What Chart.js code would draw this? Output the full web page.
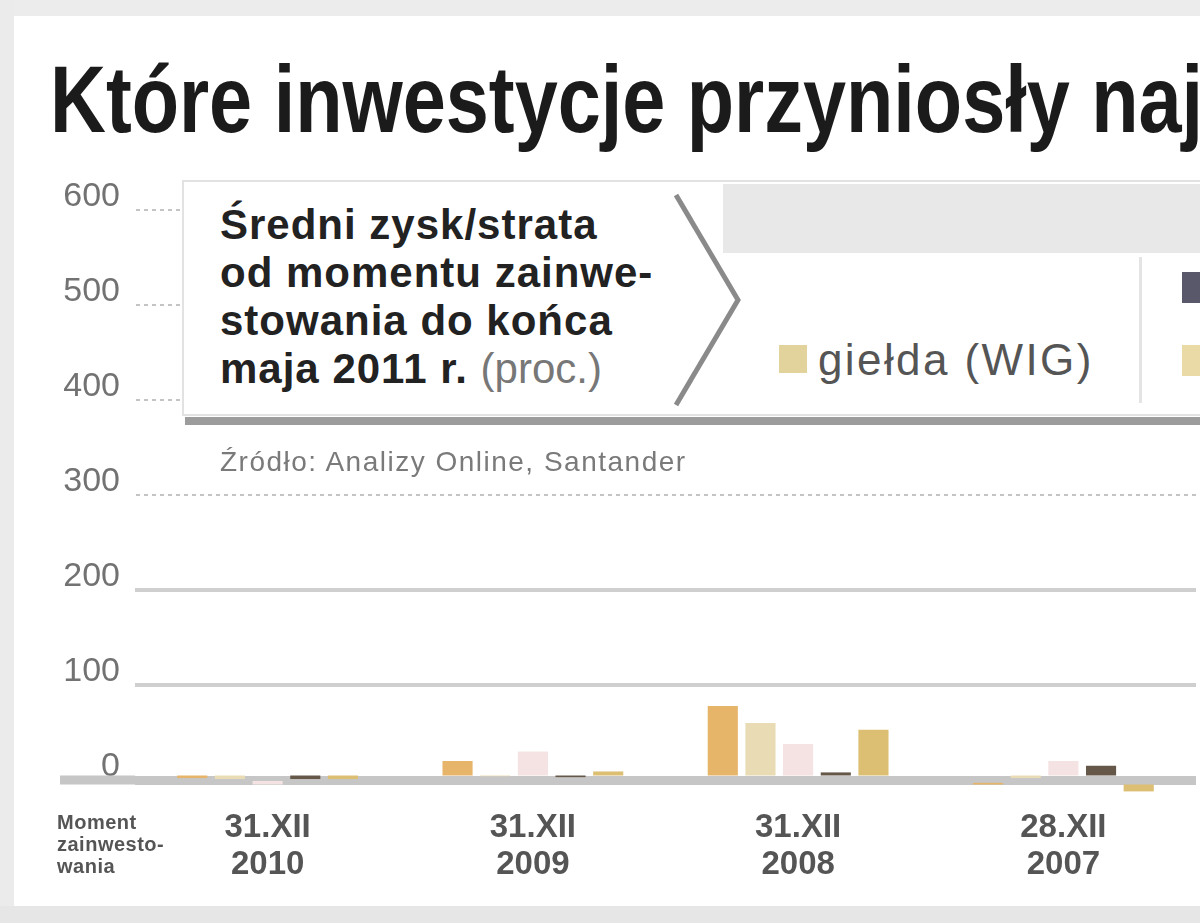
<!DOCTYPE html>
<html lang="pl">
<head>
<meta charset="utf-8">
<script src="https://cdn.jsdelivr.net/npm/chart.js@4.4.0/dist/chart.umd.min.js"></script>
<style>
  html, body { margin:0; padding:0; width:1200px; height:923px; overflow:hidden; background:#fff; font-family:"Liberation Sans", Arial, sans-serif; }
  #frameTop { position:absolute; left:0; top:0; width:1200px; height:16px; background:#ececec; }
  #frameBottom { position:absolute; left:0; top:906px; width:1200px; height:17px; background:#e6e6e6; }
  #frameLeft { position:absolute; left:0; top:0; width:14px; height:923px; background:#ebebeb; }
  #c { position:absolute; left:0; top:0; }
  #title { position:absolute; left:50px; top:52px; font-size:95px; line-height:95px; font-weight:bold; color:#1b1b1b; white-space:nowrap; transform:scaleX(0.815); transform-origin:0 0; }
  #box { position:absolute; left:182px; top:180px; width:1100px; height:236px; background:#fff; border:2px solid #e2e2e2; box-sizing:border-box; }
  #boxShadow { position:absolute; left:185px; top:417px; width:1100px; height:8px; background:#9c9c9c; }
  #strip { position:absolute; left:723px; top:184px; width:600px; height:69px; background:#e8e8e8; }
  #chev { position:absolute; left:660px; top:185px; }
  #boxText { position:absolute; left:220px; top:201px; font-size:42px; line-height:48px; font-weight:bold; color:#222; letter-spacing:1px; white-space:nowrap; }
  #boxText span { font-weight:normal; color:#777; letter-spacing:0; }
  .lsq { position:absolute; width:28px; height:28px; }
  #leg1 { position:absolute; left:818px; top:338px; font-size:44px; line-height:44px; color:#555; letter-spacing:2.4px; white-space:nowrap; }
  #divider { position:absolute; left:1139px; top:257px; width:3px; height:146px; background:#e4e4e4; }
  #source { position:absolute; left:220px; top:448px; font-size:28px; line-height:28px; color:#7a7a7a; letter-spacing:1.5px; white-space:nowrap; }
  #axisNote { position:absolute; left:57px; top:811px; font-size:20px; line-height:22px; font-weight:bold; color:#555; white-space:nowrap; letter-spacing:0.5px; }
</style>
</head>
<body>
<div id="frameTop"></div>
<div id="frameLeft"></div>
<div id="frameBottom"></div>
<canvas id="c" width="1200" height="923"></canvas>
<div id="title">Które inwestycje przyniosły najwięcej?</div>
<div id="box"></div>
<div id="boxShadow"></div>
<div id="strip"></div>
<svg id="chev" width="90" height="230" viewBox="0 0 90 230"><polyline points="16,10 78,115 16,220" fill="none" stroke="#8a8a8a" stroke-width="5"/></svg>
<div id="boxText">Średni zysk/strata<br>od momentu zainwe-<br>stowania do końca<br>maja 2011 r. <span>(proc.)</span></div>
<div class="lsq" id="sqWig" style="left:779px; top:345px;"></div>
<div id="leg1">giełda (WIG)</div>
<div id="divider"></div>
<div class="lsq" id="sqB" style="left:1182px; top:272px; height:31px;"></div>
<div class="lsq" id="sqC" style="left:1182px; top:345px; height:31px;"></div>
<div id="source">Źródło: Analizy Online, Santander</div>
<div id="axisNote">Moment<br>zainwesto-<br>wania</div>
<script>
// ---- data ----
const categories = [["31.XII", "2010"], ["31.XII", "2009"], ["31.XII", "2008"], ["28.XII", "2007"]];
const yTicks = [0, 100, 200, 300, 400, 500, 600];
const seriesNames = ["giełda (WIG)", "seria 2", "seria 3", "seria 4", "seria 5"];
const wig     = [2, 20, 78, -3];
const series2 = [1, 4, 60, 2];
const series3 = [-1, 30, 38, 20];
const series4 = [1, 3, 8, 15];
const series5 = [1, 9, 53, -12];
const seriesColors = ["#e6b56a", "#e9dcb5", "#f5e2e2", "#665848", "#dcbf72"];

document.getElementById('sqWig').style.background = "#e2d29c";
document.getElementById('sqB').style.background = "#58586a";
document.getElementById('sqC').style.background = "#eadba6";

// dotted pattern for upper gridlines
const pc = document.createElement('canvas');
pc.width = 8; pc.height = 8;
const pctx = pc.getContext('2d');
pctx.fillStyle = '#c4c4c4';
pctx.fillRect(0, 0, 4, 8);
const ctx = document.getElementById('c').getContext('2d');
const dotted = ctx.createPattern(pc, 'repeat');

const zeroExtend = {
  id: 'zeroExtend',
  beforeDatasetsDraw(chart) {
    const y = chart.scales.y.getPixelForValue(0);
    const c = chart.ctx;
    c.save();
    c.strokeStyle = '#c6c6c6';
    c.lineWidth = 9;
    c.beginPath();
    c.moveTo(60, y);
    c.lineTo(chart.chartArea.left, y);
    c.stroke();
    c.restore();
  }
};

const allSeries = [wig, series2, series3, series4, series5];
new Chart(ctx, {
  type: 'bar',
  data: {
    labels: categories,
    datasets: allSeries.map((d, i) => ({
      label: seriesNames[i],
      data: d,
      backgroundColor: seriesColors[i],
      borderWidth: 0,
      categoryPercentage: 0.71,
      barPercentage: 0.8
    }))
  },
  options: {
    responsive: false,
    animation: false,
    devicePixelRatio: 1,
    layout: { padding: { left: 0, right: 4, top: 210, bottom: 0 } },
    plugins: { legend: { display: false }, tooltip: { enabled: false } },
    scales: {
      x: {
        grid: { display: false, drawTicks: false },
        border: { display: false },
        ticks: {
          padding: 11,
          color: '#555',
          font: { family: 'Liberation Sans', size: 33, weight: 'bold', lineHeight: 1.1 },
          maxRotation: 0, autoSkip: false
        },
        afterFit(s) { s.height = 124; }
      },
      y: {
        min: -20, max: 600,
        afterBuildTicks(s) { s.ticks = yTicks.map(v => ({ value: v })); },
        afterFit(s) { s.width = 135; },
        border: { display: false },
        grid: {
          drawTicks: false,
          color: (c) => { const v = c.tick.value; return v === 0 ? '#c6c6c6' : (v <= 200 ? '#cfcfcf' : dotted); },
          lineWidth: (c) => { const v = c.tick.value; return v === 0 ? 9 : (v <= 200 ? 4 : 2); }
        },
        ticks: {
          padding: 15,
          labelOffset: -13,
          color: '#727272',
          font: { family: 'Liberation Sans', size: 34 }
        }
      }
    }
  },
  plugins: [zeroExtend]
});
</script>
</body>
</html>
